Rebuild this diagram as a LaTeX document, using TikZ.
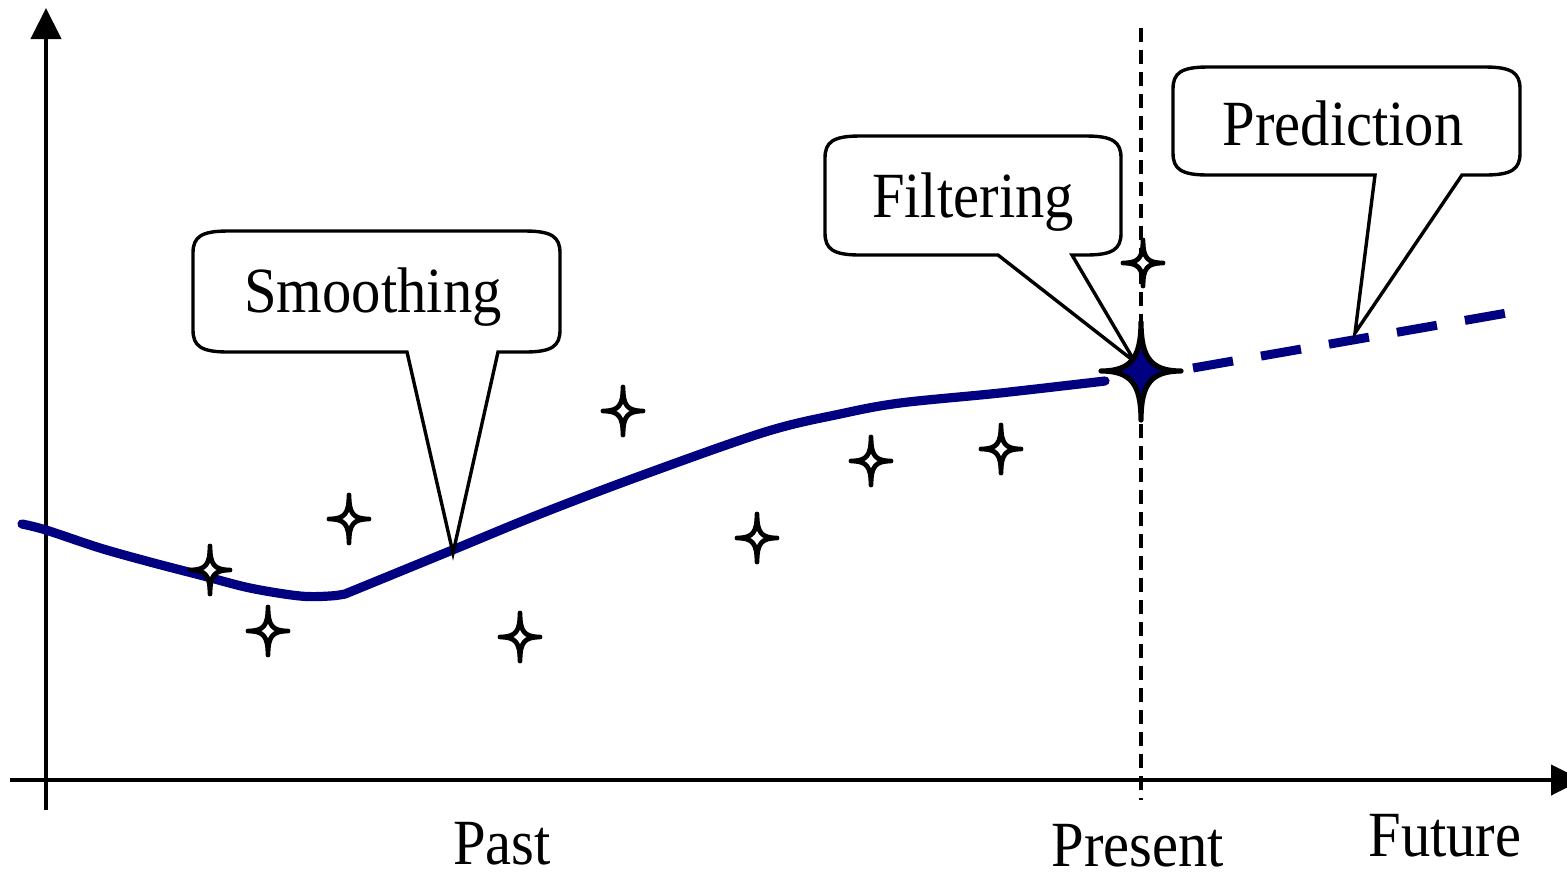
\documentclass[tikz,border=0pt]{standalone}
\usepackage{graphicx}
\usepackage{fontspec}
\setmainfont{Liberation Serif}
\usetikzlibrary{arrows.meta}
\definecolor{navy}{RGB}{0,0,128}
\newcommand{\sparkle}[6]{%
  \begin{scope}[shift={(#1,#2)}]
  \path[#5] (0,-#4) .. controls (0,-#4*#6) and (#3*#6,0) .. (#3,0)
    .. controls (#3*#6,0) and (0,#4*#6) .. (0,#4)
    .. controls (0,#4*#6) and (-#3*#6,0) .. (-#3,0)
    .. controls (-#3*#6,0) and (0,-#4*#6) .. (0,-#4) -- cycle;
  \end{scope}}
\newcommand{\bubble}[8]{%
  \draw[bubblestyle] (#5,#4) -- (#6,#7) -- (#8,#4) -- ({#3-35},#4)
    .. controls ({#3-8},#4) and (#3,{#4-6}) .. (#3,{#4-22})
    -- (#3,{#2+22}) .. controls (#3,{#2+6}) and ({#3-8},#2) .. ({#3-35},#2)
    -- ({#1+35},#2) .. controls ({#1+8},#2) and (#1,{#2+6}) .. (#1,{#2+22})
    -- (#1,{#4-22}) .. controls (#1,{#4-6}) and ({#1+8},#4) .. ({#1+35},#4) -- cycle;}
\tikzset{
  axisline/.style={line width=2.2pt, -{Triangle[length=15.5pt,width=15pt]}},
  nowline/.style={line width=1.6pt, dash pattern=on 7pt off 4pt},
  estline/.style={navy, line width=4.6pt, line cap=round, line join=round},
  predline/.style={navy, line width=4.5pt, dash pattern=on 20.3pt off 14.2pt},
  smallstar/.style={draw=black, fill=white, line width=2.4pt, line join=round},
  bigstar/.style={draw=black, fill=navy, line width=2.6pt, line join=round},
  bubblestyle/.style={draw=black, fill=white, line width=1.7pt, line join=miter},
  lbl/.style={inner sep=0pt, anchor=base, font=\fontsize{29.3}{34}\selectfont}
}
\begin{document}
\begin{tikzpicture}[x=0.5pt, y=-0.5pt]
\useasboundingbox (0,0) rectangle (1567,874);
% axes
\coordinate (ybot) at (46,810);
\coordinate (ytop) at (46,8);
\coordinate (xleft) at (10,780);
\coordinate (xright) at (1582,780);
\draw[axisline] (ybot) -- (ytop);
\draw[axisline] (xleft) -- (xright);
% present line
\coordinate (ptop) at (1141,28);
\coordinate (pbot) at (1141,800);
\draw[nowline] (ptop) -- (pbot);
% estimate curve
\draw[estline] plot[smooth, tension=0.55] coordinates {(22,524) (46,530) (100,548) (150,562) (200,575) (250,588) (300,596) (330,596) (345,594)}
  -- plot[smooth, tension=0.55] coordinates {(345,594) (450,551) (540,514) (640,476) (765,432) (840,414) (900,403) (1000,393) (1105,381)};
% prediction
\coordinate (pstart) at (1193,368);
\coordinate (pend) at (1507,313);
\draw[predline] (pstart) -- (pend);
% measurements
\sparkle{210}{570}{20}{24}{smallstar}{0.22}
\sparkle{268}{631}{20}{24}{smallstar}{0.22}
\sparkle{349}{519}{20}{24}{smallstar}{0.22}
\sparkle{520}{637}{20}{24}{smallstar}{0.22}
\sparkle{623}{411}{20}{24}{smallstar}{0.22}
\sparkle{757}{538}{20}{24}{smallstar}{0.22}
\sparkle{871}{461}{20}{24}{smallstar}{0.22}
\sparkle{1001}{449}{20}{24}{smallstar}{0.22}
\sparkle{1143}{263}{20}{23}{smallstar}{0.22}
% callouts
\bubble{193}{231}{560}{352}{407}{453}{553}{498}
\bubble{825}{136}{1121}{255}{998}{1135}{362}{1072}
\bubble{1173}{67}{1520}{175}{1375}{1355}{333}{1462}
\node[lbl] (smooth) at (373,312) {\scalebox{1}[1.1]{Smoothing}};
\node[lbl] (filter) at (973,217) {\scalebox{1}[1.1]{Filtering}};
\node[lbl] (predict) at (1343,145) {\scalebox{1}[1.1]{Prediction}};
% filtered estimate
\sparkle{1141}{371}{40}{49}{bigstar}{0.26}
% time labels
\node[lbl] (past) at (502,864) {\scalebox{1}[1.1]{Past}};
\node[lbl] (present) at (1138,866) {\scalebox{1}[1.1]{Present}};
\node[lbl] (future) at (1445,856) {\scalebox{1}[1.1]{Future}};
\end{tikzpicture}
\end{document}
